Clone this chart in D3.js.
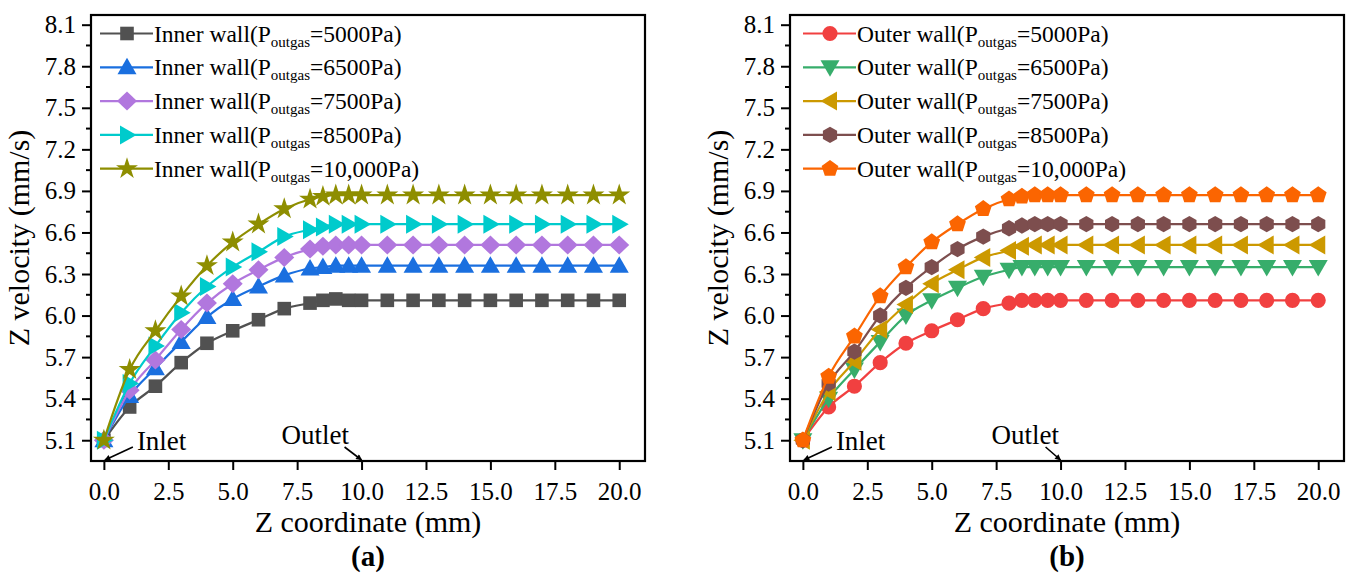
<!DOCTYPE html>
<html>
<head>
<meta charset="utf-8">
<script src="https://cdn.jsdelivr.net/npm/d3@7"></script>
<style>
  body { margin: 0; background: #fff; }
  svg { display: block; }
</style>
</head>
<body>
<svg id="chart" width="1357" height="578" style="font-family: 'Liberation Serif', Tinos, 'Times New Roman', 'DejaVu Serif', serif;"></svg>
<script>
// z coordinate (mm) of every sample
var zCoord = [0, 1, 2, 3, 4, 5, 6, 7, 8, 8.5, 9, 9.5, 10, 11, 12, 13, 14, 15, 16, 17, 18, 19, 20];

// inner wall velocities (mm/s)
var inner5000  = [5.10, 5.34, 5.49, 5.66, 5.80, 5.89, 5.97, 6.05, 6.09, 6.11, 6.12, 6.11, 6.11, 6.11, 6.11, 6.11, 6.11, 6.11, 6.11, 6.11, 6.11, 6.11, 6.11];
var inner6500  = [5.10, 5.42, 5.62, 5.81, 5.99, 6.12, 6.21, 6.29, 6.34, 6.35, 6.36, 6.36, 6.36, 6.36, 6.36, 6.36, 6.36, 6.36, 6.36, 6.36, 6.36, 6.36, 6.36];
var inner7500  = [5.10, 5.46, 5.68, 5.90, 6.09, 6.23, 6.33, 6.42, 6.48, 6.50, 6.51, 6.51, 6.51, 6.51, 6.51, 6.51, 6.51, 6.51, 6.51, 6.51, 6.51, 6.51, 6.51];
var inner8500  = [5.10, 5.51, 5.78, 6.02, 6.21, 6.35, 6.46, 6.57, 6.62, 6.64, 6.66, 6.66, 6.66, 6.66, 6.66, 6.66, 6.66, 6.66, 6.66, 6.66, 6.66, 6.66, 6.66];
var inner10000 = [5.10, 5.61, 5.89, 6.14, 6.36, 6.53, 6.66, 6.77, 6.84, 6.86, 6.87, 6.87, 6.87, 6.87, 6.87, 6.87, 6.87, 6.87, 6.87, 6.87, 6.87, 6.87, 6.87];

// outer wall velocities (mm/s)
var outer5000  = [5.10, 5.34, 5.49, 5.66, 5.80, 5.89, 5.97, 6.05, 6.09, 6.11, 6.11, 6.11, 6.11, 6.11, 6.11, 6.11, 6.11, 6.11, 6.11, 6.11, 6.11, 6.11, 6.11];
var outer6500  = [5.10, 5.40, 5.61, 5.81, 6.00, 6.11, 6.20, 6.28, 6.33, 6.35, 6.35, 6.35, 6.35, 6.35, 6.35, 6.35, 6.35, 6.35, 6.35, 6.35, 6.35, 6.35, 6.35];
var outer7500  = [5.10, 5.45, 5.67, 5.90, 6.08, 6.23, 6.33, 6.42, 6.47, 6.50, 6.51, 6.51, 6.51, 6.51, 6.51, 6.51, 6.51, 6.51, 6.51, 6.51, 6.51, 6.51, 6.51];
var outer8500  = [5.10, 5.51, 5.74, 6.00, 6.20, 6.35, 6.48, 6.57, 6.63, 6.65, 6.66, 6.66, 6.66, 6.66, 6.66, 6.66, 6.66, 6.66, 6.66, 6.66, 6.66, 6.66, 6.66];
var outer10000 = [5.10, 5.56, 5.85, 6.14, 6.35, 6.53, 6.66, 6.77, 6.84, 6.86, 6.87, 6.87, 6.87, 6.87, 6.87, 6.87, 6.87, 6.87, 6.87, 6.87, 6.87, 6.87, 6.87];

var pressures = ["5000", "6500", "7500", "8500", "10,000"];
var xTicks = [0, 2.5, 5, 7.5, 10, 12.5, 15, 17.5, 20];
var yTicks = [5.1, 5.4, 5.7, 6.0, 6.3, 6.6, 6.9, 7.2, 7.5, 7.8, 8.1];

var serif = "'Liberation Serif', Tinos, 'Times New Roman', 'DejaVu Serif', serif";
var svg = d3.select("#chart");

// arrowhead
svg.append("defs").append("marker")
  .attr("id", "arrow")
  .attr("viewBox", "0 0 10 10")
  .attr("refX", 9).attr("refY", 5)
  .attr("markerWidth", 7).attr("markerHeight", 6)
  .attr("markerUnits", "userSpaceOnUse")
  .attr("orient", "auto")
  .append("path").attr("d", "M0,0 L10,5 L0,10 Z").attr("fill", "#000");

function polygon(n, r, rot) {
  var pts = [];
  for (var i = 0; i < n; i++) {
    var a = rot + i * 2 * Math.PI / n;
    pts.push([r * Math.cos(a), r * Math.sin(a)]);
  }
  return "M" + pts.map(function(p){ return p[0].toFixed(2) + "," + p[1].toFixed(2); }).join("L") + "Z";
}

var shapes = {
  square:   "M-6.8,-6.8H6.8V6.8H-6.8Z",
  triUp:    "M0,-9.5L9.5,7L-9.5,7Z",
  triDown:  "M0,9.5L9.5,-7L-9.5,-7Z",
  triRight: "M9.5,0L-7,9.5L-7,-9.5Z",
  triLeft:  "M-9.5,0L7,9.5L7,-9.5Z",
  diamond:  "M0,-9.5L10,0L0,9.5L-10,0Z",
  star:     d3.symbol(d3.symbolStar, 150)(),
  circle:   d3.symbol(d3.symbolCircle, 180)(),
  hexagon:  polygon(6, 8.2, -Math.PI / 2),
  pentagon: polygon(5, 8.8, -Math.PI / 2)
};

function addText(sel, size) {
  return sel.append("text").style("font-family", serif).style("font-size", size + "px").attr("fill", "#000");
}

function drawPanel(left, opts) {
  var right = left + 554, top = 15, bottom = 461;
  var x = d3.scaleLinear().domain([-0.5, 21]).range([left, right]);
  var y = d3.scaleLinear().domain([4.95, 8.17]).range([bottom, top]);

  var g = svg.append("g");

  // axes
  var xAxis = g.append("g")
    .attr("transform", "translate(0," + bottom + ")")
    .call(d3.axisBottom(x).tickValues(xTicks).tickFormat(d3.format(".1f")).tickSize(9).tickSizeOuter(0).tickPadding(12));
  var yAxis = g.append("g")
    .attr("transform", "translate(" + left + ",0)")
    .call(d3.axisLeft(y).tickValues(yTicks).tickFormat(d3.format(".1f")).tickSize(9).tickSizeOuter(0).tickPadding(6));
  // minor ticks
  var yMinor = yTicks.slice(1).map(function(v, i){ return (v + yTicks[i]) / 2; });
  g.append("g").selectAll("line").data(yMinor).enter().append("line")
    .attr("x1", left - 5).attr("x2", left)
    .attr("y1", function(d){ return y(d); }).attr("y2", function(d){ return y(d); })
    .attr("stroke", "#000").attr("stroke-width", 2);

  [xAxis, yAxis].forEach(function(a){
    a.attr("font-family", null).attr("font-size", null);
    a.select(".domain").remove();
    a.selectAll(".tick line").attr("stroke-width", 2);
    a.selectAll(".tick text").style("font-size", "25px").style("font-family", serif);
  });

  // frame
  g.append("rect")
    .attr("x", left).attr("y", top)
    .attr("width", right - left).attr("height", bottom - top)
    .attr("fill", "none").attr("stroke", "#000").attr("stroke-width", 2.2);

  // titles
  addText(g, 30)
    .attr("x", (left + right) / 2).attr("y", 532)
    .attr("text-anchor", "middle")
    .text("Z coordinate (mm)");
  addText(g, 30)
    .attr("transform", "translate(" + (left - 62) + "," + ((top + bottom) / 2) + ") rotate(-90)")
    .attr("text-anchor", "middle")
    .text("Z velocity (mm/s)");
  addText(g, 29)
    .attr("x", (left + right) / 2).attr("y", 566)
    .attr("text-anchor", "middle").style("font-weight", "bold")
    .text(opts.label);

  // curves
  var line = d3.line()
    .x(function(d){ return x(d[0]); })
    .y(function(d){ return y(d[1]); })
    .curve(d3.curveMonotoneX);

  opts.series.forEach(function(s) {
    var pts = zCoord.map(function(z, i){ return [z, s.values[i]]; });
    g.append("path").datum(pts)
      .attr("d", line).attr("fill", "none")
      .attr("stroke", s.color).attr("stroke-width", 2.2);
    g.append("g").selectAll("path").data(pts).enter().append("path")
      .attr("d", shapes[s.shape])
      .attr("transform", function(d){ return "translate(" + x(d[0]) + "," + y(d[1]) + ")"; })
      .attr("fill", s.color);
  });

  // inlet / outlet annotations
  var tipIn = [x(0), bottom], tipOut = [x(10), bottom];
  g.append("line")
    .attr("x1", tipIn[0] + 29).attr("y1", tipIn[1] - 14)
    .attr("x2", tipIn[0] + 1).attr("y2", tipIn[1] - 1)
    .attr("stroke", "#000").attr("stroke-width", 1.6).attr("marker-end", "url(#arrow)");
  addText(g, 27)
    .attr("x", tipIn[0] + 33).attr("y", tipIn[1] - 11)
    .text("Inlet");
  g.append("line")
    .attr("x1", tipOut[0] + opts.outletArrowDx).attr("y1", tipOut[1] - 14)
    .attr("x2", tipOut[0]).attr("y2", tipOut[1] - 1)
    .attr("stroke", "#000").attr("stroke-width", 1.6).attr("marker-end", "url(#arrow)");
  addText(g, 27)
    .attr("x", tipOut[0] + opts.outletTextDx).attr("y", tipOut[1] - 17)
    .text("Outlet");

  // legend
  var lx = left + opts.legendDx;
  opts.series.forEach(function(s, i) {
    var ly = 33.5 + i * 33.8;
    var row = g.append("g");
    row.append("line")
      .attr("x1", lx).attr("x2", lx + 53).attr("y1", ly).attr("y2", ly)
      .attr("stroke", s.color).attr("stroke-width", 2.2);
    row.append("path").attr("d", shapes[s.shape])
      .attr("transform", "translate(" + (lx + 27) + "," + ly + ")")
      .attr("fill", s.color);
    var t = addText(row, 23.5).attr("x", lx + 54).attr("y", ly + 8);
    t.append("tspan").text(opts.name + "(P");
    t.append("tspan").attr("dy", 5).style("font-size", "15px").text("outgas");
    t.append("tspan").attr("dy", -5).text("=" + pressures[i] + "Pa)");
  });
}

drawPanel(91, {
  label: "(a)", name: "Inner wall", legendDx: 9,
  outletArrowDx: -17, outletTextDx: -80,
  series: [
    { values: inner5000,  color: "#515151", shape: "square" },
    { values: inner6500,  color: "#1A6FDF", shape: "triUp" },
    { values: inner7500,  color: "#B177DE", shape: "diamond" },
    { values: inner8500,  color: "#00CBCC", shape: "triRight" },
    { values: inner10000, color: "#8E8E00", shape: "star" }
  ]
});

drawPanel(790, {
  label: "(b)", name: "Outer wall", legendDx: 13,
  outletArrowDx: -15, outletTextDx: -69,
  series: [
    { values: outer5000,  color: "#F14040", shape: "circle" },
    { values: outer6500,  color: "#37AD6B", shape: "triDown" },
    { values: outer7500,  color: "#CC9900", shape: "triLeft" },
    { values: outer8500,  color: "#7D4E4E", shape: "hexagon" },
    { values: outer10000, color: "#FB6501", shape: "pentagon" }
  ]
});
</script>
</body>
</html>
